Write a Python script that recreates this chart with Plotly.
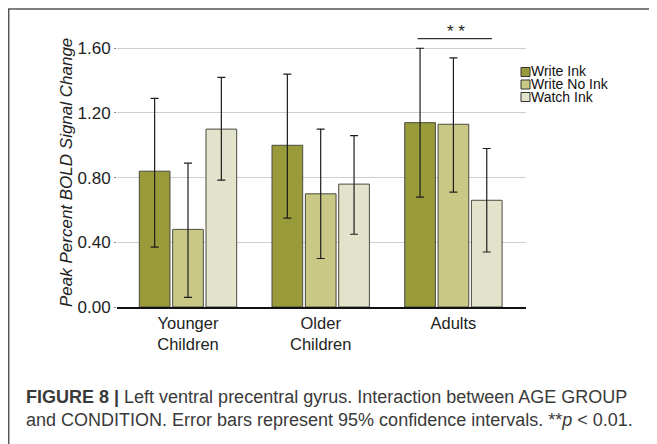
import plotly.graph_objects as go

groups = ["Younger<br>Children", "Older<br>Children", "Adults"]
conditions = ["Write Ink", "Write No Ink", "Watch Ink"]
means = {
    "Write Ink":    [0.84, 1.00, 1.14],
    "Write No Ink": [0.48, 0.70, 1.13],
    "Watch Ink":    [1.10, 0.76, 0.66],
}
ci_upper = {
    "Write Ink":    [1.29, 1.44, 1.60],
    "Write No Ink": [0.89, 1.10, 1.54],
    "Watch Ink":    [1.42, 1.06, 0.98],
}
ci_lower = {
    "Write Ink":    [0.37, 0.55, 0.68],
    "Write No Ink": [0.06, 0.30, 0.71],
    "Watch Ink":    [0.785, 0.45, 0.34],
}
colors = {"Write Ink": "#999a3a", "Write No Ink": "#c9c985", "Watch Ink": "#e2e3ca"}
y_ticks = [0.0, 0.4, 0.8, 1.2, 1.6]
y_tick_labels = ["0.00", "0.40", "0.80", "1.20", "1.60"]

# page has an 8px body margin; figure sized so it ends exactly at the window edge
OFF = 8
W, H = 657 - OFF, 444 - OFF
L, T = 117 - OFF, 24 - OFF
R, B = 657 - 526, 444 - 307
PW, PH = W - L - R, H - T - B

def px(x):  # page x -> paper
    return (x - OFF - L) / PW

def py(y):  # page y -> paper
    return (H - B - (y - OFF)) / PH

fig = go.Figure()
for c in conditions:
    m = means[c]
    up = [u - v for u, v in zip(ci_upper[c], m)]
    lo = [v - d for v, d in zip(m, ci_lower[c])]
    fig.add_trace(go.Bar(
        name=c, x=groups, y=m,
        marker=dict(color=colors[c], line=dict(color="#4a4a40", width=1)),
        error_y=dict(type="data", symmetric=False, array=up, arrayminus=lo,
                     color="#1e1e1e", thickness=1.2, width=4),
        showlegend=False,
    ))

shapes = []
ann = []
# white box behind custom legend
shapes.append(dict(type="rect", xref="paper", yref="paper",
                   x0=px(514), x1=px(540), y0=py(118), y1=py(58),
                   fillcolor="white", line=dict(width=0), layer="between"))
leg_rows = [71.5, 84, 96.5]
for c, yy in zip(conditions, leg_rows):
    shapes.append(dict(type="rect", xref="paper", yref="paper",
                       x0=px(521), x1=px(530), y0=py(yy + 5), y1=py(yy - 4),
                       fillcolor=colors[c], line=dict(color="#333333", width=1)))
    ann.append(dict(xref="paper", yref="paper", x=px(529), y=py(yy), text=c,
                    showarrow=False, xanchor="left", yanchor="middle",
                    font=dict(size=14, color="#111111", family="Liberation Sans, Arial")))
# significance line
shapes.append(dict(type="line", xref="x", yref="y", x0=1.73, x1=2.29, y0=1.66, y1=1.66,
                   line=dict(color="#333333", width=1.2)))
ann.append(dict(xref="x", yref="y", x=2.02, y=1.705, text="* *", showarrow=False,
                yanchor="middle", font=dict(size=17, color="#222222", family="Liberation Sans, Arial")))
# figure frame (left and top edges)
shapes.append(dict(type="line", xref="paper", yref="paper", x0=px(8.7), x1=px(8.7),
                   y0=py(460), y1=py(9), line=dict(color="#555555", width=1.5)))
shapes.append(dict(type="line", xref="paper", yref="paper", x0=px(8), x1=px(670),
                   y0=py(9), y1=py(9), line=dict(color="#555555", width=1.5)))
# y-axis title
ann.append(dict(xref="paper", yref="paper", x=px(66), y=py(173), text="Peak Percent BOLD Signal Change",
                textangle=-90, showarrow=False, xanchor="center", yanchor="middle",
                font=dict(size=17, color="#222222", family="Liberation Sans, Arial", style="italic")))
# caption
cap_font = dict(size=18, color="#3a3a3a", family="Liberation Sans, Arial")
ann.append(dict(xref="paper", yref="paper", x=px(24), y=py(397),
                text="<b>FIGURE 8 |</b> Left ventral precentral gyrus. Interaction between AGE GROUP",
                showarrow=False, xanchor="left", yanchor="middle", font=cap_font))
ann.append(dict(xref="paper", yref="paper", x=px(24), y=py(420),
                text="and CONDITION. Error bars represent 95% confidence intervals. **<i>p</i> &lt; 0.01.",
                showarrow=False, xanchor="left", yanchor="middle", font=cap_font))

fig.update_layout(
    width=W, height=H, autosize=False,
    margin=dict(l=L, r=R, t=T, b=B, pad=0),
    paper_bgcolor="white", plot_bgcolor="white",
    barmode="group", bargap=0.246, bargroupgap=0.08,
    shapes=shapes, annotations=ann,
    font=dict(family="Liberation Sans, Arial", color="#222222"),
    xaxis=dict(range=[-0.535, 2.547], showgrid=False, showline=True, linecolor="#111111",
               linewidth=2, ticks="", tickfont=dict(size=16.5, color="#222222")),
    yaxis=dict(range=[0, 1.75], tickvals=y_ticks, ticktext=y_tick_labels,
               showgrid=True, gridcolor="#cfcfcf", gridwidth=1, zeroline=False,
               showline=False, ticks="outside", ticklen=2, tickcolor="#888888",
               tickfont=dict(size=17, color="#222222")),
)
fig.write_html("out.html")
